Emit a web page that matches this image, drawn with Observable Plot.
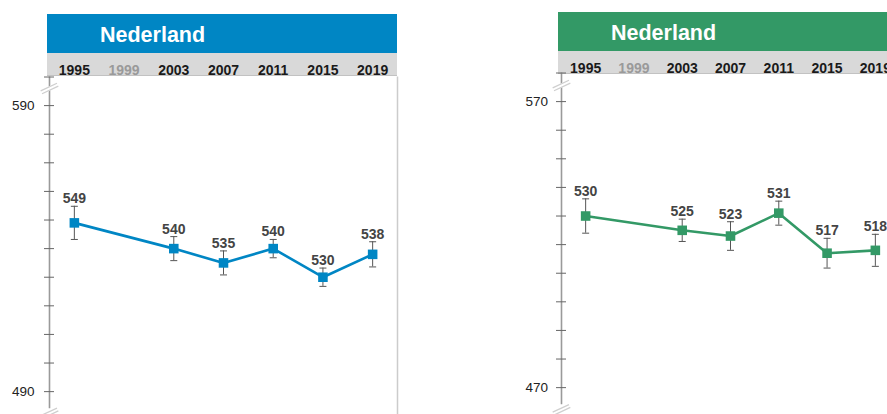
<!DOCTYPE html>
<html><head><meta charset="utf-8">
<script src="https://cdn.jsdelivr.net/npm/d3@7"></script>
<script src="https://cdn.jsdelivr.net/npm/@observablehq/plot@0.6"></script>
<style>
html,body{margin:0;padding:0;background:#fff;overflow:hidden;}
#wrap{position:relative;width:887px;height:414px;overflow:hidden;font-family:"Liberation Sans",Arial,sans-serif;}
.hdr{position:absolute;color:#fff;font-weight:bold;font-size:21.5px;box-sizing:border-box;white-space:nowrap;}
.band{position:absolute;background:#d9d9d9;border-bottom:1px solid #c2c2c2;box-sizing:border-box;}
.panel{position:absolute;top:0;}
</style></head><body><div id="wrap"></div>
<script>
// ---- data ----
const panelTitle = "Nederland";
const years = [1995, 1999, 2003, 2007, 2011, 2015, 2019];
const measuredYears = [1995, 2003, 2007, 2011, 2015, 2019];
const missingYears = [1999];
const blueScores = [549, 540, 535, 540, 530, 538];
const blueErrors = [5.8, 4.2, 4.2, 3.2, 3.2, 4.4];
const greenScores = [530, 525, 523, 531, 517, 518];
const greenErrors = [6.0, 3.9, 5.0, 4.2, 5.2, 5.6];
const blueTickLabels = [490, 590];
const greenTickLabels = [470, 570];
const blueMinorTicks = [490, 500, 510, 520, 530, 540, 550, 560, 570, 580, 590, 600];
const greenMinorTicks = [470, 480, 490, 500, 510, 520, 530, 540, 550, 560, 570, 580];

// ---- helpers ----
const capSymbol = {draw(ctx, size) { const r = Math.sqrt(size / Math.PI); ctx.moveTo(-r, 0); ctx.lineTo(r, 0); }};
const ang = 25 * Math.PI / 180, ux = Math.cos(ang), uy = -Math.sin(ang), nx = Math.sin(ang), ny = Math.cos(ang);
const breakLines = {draw(ctx, size) {
  const r = Math.sqrt(size / Math.PI);
  for (const o of [-1.6, 1.6]) { ctx.moveTo(-r*ux + o*nx, -r*uy + o*ny); ctx.lineTo(r*ux + o*nx, r*uy + o*ny); }
}};
const breakFill = {draw(ctx, size) {
  const r = Math.sqrt(size / Math.PI), o = 2.2;
  ctx.moveTo(-r*ux - o*nx, -r*uy - o*ny); ctx.lineTo(r*ux - o*nx, r*uy - o*ny);
  ctx.lineTo(r*ux + o*nx, r*uy + o*ny); ctx.lineTo(-r*ux + o*nx, -r*uy + o*ny); ctx.closePath();
}};

const wrap = document.getElementById("wrap");

function panel(cfg) {
  const band = document.createElement("div");
  band.className = "band";
  Object.assign(band.style, {left: cfg.hdrLeft + "px", width: cfg.hdrWidth + "px", top: cfg.hdrBottom + "px", height: (cfg.bandBottom - cfg.hdrBottom) + "px"});
  wrap.appendChild(band);
  const hdr = document.createElement("div");
  hdr.className = "hdr";
  Object.assign(hdr.style, {left: cfg.hdrLeft + "px", width: cfg.hdrWidth + "px", top: cfg.hdrTop + "px", height: (cfg.hdrBottom - cfg.hdrTop) + "px",
    background: cfg.color, lineHeight: (cfg.hdrBottom - cfg.hdrTop) + "px", paddingLeft: "53px", paddingTop: "2px"});
  hdr.textContent = panelTitle;
  wrap.appendChild(hdr);

  const rows = measuredYears.map((y, i) => ({year: y, v: cfg.scores[i], e: cfg.errors[i]}));
  const xDom = [1993, 2021];
  const yearDy = -(cfg.marginTop - (cfg.bandBottom + cfg.hdrBottom) / 2);
  const chart = Plot.plot({
    width: cfg.width, height: 414,
    marginLeft: cfg.marginLeft, marginRight: cfg.marginRight, marginTop: cfg.marginTop, marginBottom: cfg.marginBottom,
    style: {background: "transparent", fontFamily: "Liberation Sans, Arial, sans-serif"},
    x: {domain: xDom, axis: null},
    y: {domain: cfg.yDomain, label: null},
    marks: [
      Plot.ruleX([xDom[1]], {x: d => d, stroke: "#cccccc", strokeWidth: 1.5, insetBottom: -12}),
      Plot.ruleX([xDom[0]], {x: d => d, stroke: "#9a9a9a", strokeWidth: 1.6}),
      Plot.axisY({ticks: cfg.minorTicks, tickSize: 10, dx: 5, tickFormat: () => "", stroke: "#666", strokeWidth: 1}),
      Plot.axisY({ticks: cfg.tickLabels, tickSize: 0, tickPadding: cfg.tickPadding, fontSize: 13.5, fill: "#222", tickFormat: d => String(d)}),
      Plot.dot([0], {frameAnchor: "top-left", dy: cfg.breakTopDy, symbol: breakFill, r: 9, fill: "white", stroke: "none"}),
      Plot.dot([0], {frameAnchor: "top-left", dy: cfg.breakTopDy, symbol: breakLines, r: 9, stroke: "#cfcfcf", strokeWidth: 1.3}),
      Plot.dot([0], {frameAnchor: "bottom-left", dy: cfg.breakBotDy, symbol: breakFill, r: 9, fill: "white", stroke: "none"}),
      Plot.dot([0], {frameAnchor: "bottom-left", dy: cfg.breakBotDy, symbol: breakLines, r: 9, stroke: "#cfcfcf", strokeWidth: 1.3}),
      Plot.text(measuredYears, {x: d => d, text: d => String(d), frameAnchor: "top", dy: yearDy, fontSize: 14, fontWeight: "bold", fill: "#1a1a1a"}),
      Plot.text(missingYears, {x: d => d, text: d => String(d), frameAnchor: "top", dy: yearDy, fontSize: 14, fontWeight: "bold", fill: "#9a9a9a"}),
      Plot.ruleX(rows, {x: "year", y1: d => d.v - d.e, y2: d => d.v + d.e, stroke: "#555", strokeWidth: 1}),
      Plot.dot(rows, {x: "year", y: d => d.v + d.e, symbol: capSymbol, r: 3.5, stroke: "#555", strokeWidth: 1}),
      Plot.dot(rows, {x: "year", y: d => d.v - d.e, symbol: capSymbol, r: 3.5, stroke: "#555", strokeWidth: 1}),
      Plot.line(rows, {x: "year", y: "v", stroke: cfg.color, strokeWidth: 2.6}),
      Plot.dot(rows, {x: "year", y: "v", symbol: "square", r: 5.4, fill: cfg.color, stroke: "none"}),
      Plot.text(rows, {x: "year", y: d => d.v + d.e, text: d => String(d.v), lineAnchor: "bottom", dy: -3, fontSize: 14, fontWeight: "bold", fill: "#444"})
    ]
  });
  chart.classList.add("panel");
  chart.style.left = cfg.left + "px";
  chart.style.position = "absolute";
  chart.style.top = "0px";
  wrap.appendChild(chart);
}

panel({color: "#0086c4", scores: blueScores, errors: blueErrors, tickLabels: blueTickLabels, minorTicks: blueMinorTicks,
  left: 0, width: 400, marginLeft: 49, marginRight: 3, marginTop: 76.5, marginBottom: 5.7, yDomain: [484, 600], tickPadding: 15,
  hdrLeft: 47, hdrWidth: 350, hdrTop: 14, hdrBottom: 52.7, bandBottom: 76.3, breakTopDy: 11.5, breakBotDy: 4.5});
panel({color: "#339966", scores: greenScores, errors: greenErrors, tickLabels: greenTickLabels, minorTicks: greenMinorTicks,
  left: 500, width: 400, marginLeft: 61, marginRight: 1, marginTop: 72.5, marginBottom: 9.7, yDomain: [464, 580], tickPadding: 13.5,
  hdrLeft: 558, hdrWidth: 400, hdrTop: 12, hdrBottom: 51, bandBottom: 74, breakTopDy: 12.5, breakBotDy: 5});
</script></body></html>
